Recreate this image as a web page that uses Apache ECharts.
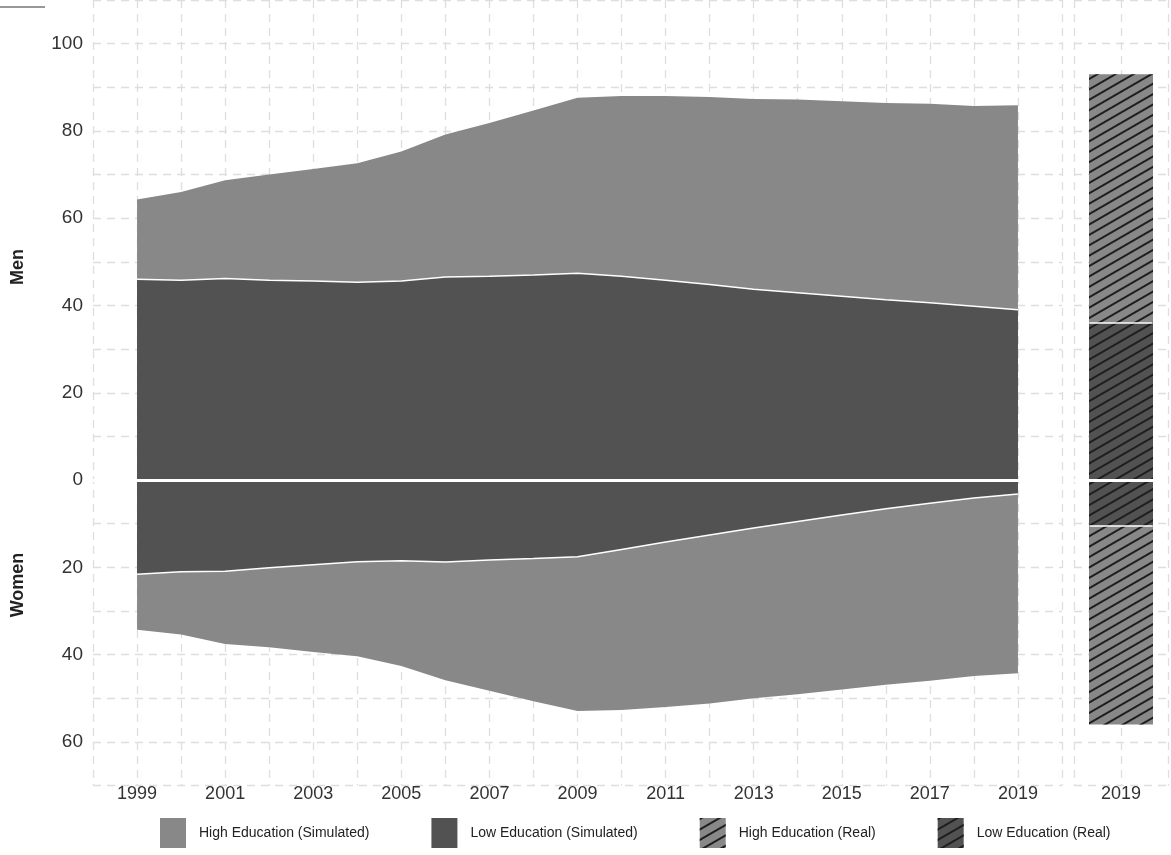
<!DOCTYPE html>
<html><head><meta charset="utf-8">
<script src="https://cdn.jsdelivr.net/npm/echarts@6/dist/echarts.min.js"></script>
<style>html,body{margin:0;padding:0;background:#fff}#c{width:1171px;height:855px}</style>
</head><body><div id="c"></div>
<script>
const years=[1999,2000,2001,2002,2003,2004,2005,2006,2007,2008,2009,2010,2011,2012,2013,2014,2015,2016,2017,2018,2019];
const menLow=[46,45.8,46.2,45.8,45.6,45.3,45.6,46.5,46.7,47,47.4,46.7,45.8,44.8,43.7,42.9,42.1,41.3,40.6,39.8,39];
const menTotal=[64.3,66,68.7,70,71.3,72.6,75.3,79.2,81.8,84.7,87.6,88,88,87.8,87.3,87.2,86.8,86.4,86.2,85.7,85.9];
const womenLow=[21.6,21,20.9,20.1,19.4,18.7,18.5,18.8,18.3,18,17.6,15.9,14.2,12.6,11,9.5,8,6.6,5.3,4.1,3.2];
const womenTotal=[34.3,35.4,37.6,38.3,39.4,40.4,42.6,45.9,48.3,50.7,52.9,52.7,52,51.2,50,49.1,48,46.9,46,44.9,44.3];
const realMenLow=36, realMenTotal=93, realWomenLow=10.5, realWomenTotal=56;
const LIGHT='#888888', DARK='#525252';
const pair=(a,s)=>years.map((y,i)=>[y,s*a[i]]);
const decal={symbol:'rect',dashArrayX:[1,0],dashArrayY:[1.6,7],rotation:-Math.PI/6,color:'#1e1e1e',symbolSize:1};
const gl={show:true,lineStyle:{color:'#dedede',type:[8,6],width:1.3}};
const yCommon={type:'value',min:-70,max:110,interval:10,axisLine:{show:false},axisTick:{show:false},splitLine:gl};
const bar=(name,v,color)=>({name,type:'bar',xAxisIndex:1,yAxisIndex:1,barWidth:64,barGap:'-100%',data:[[1,v]],
  itemStyle:{color,decal:decal}});
const seg=v=>[{coord:[0.326,v]},{coord:[1.674,v]}];
const chart=echarts.init(document.getElementById('c'));
chart.setOption({
 animation:false,
 grid:[{left:93,width:969,top:-2,height:787.5},{left:1074,width:95,top:-2,height:787.5}],
 xAxis:[
  {type:'value',gridIndex:0,min:1998,max:2020,interval:1,axisLine:{show:false},axisTick:{show:false},splitLine:gl,
   axisLabel:{margin:0,fontSize:18,color:'#333',fontFamily:'Liberation Sans',formatter:v=>(v%2===1&&v>1998&&v<2020)?String(v):''}},
  {type:'value',gridIndex:1,min:0,max:2,interval:1,axisLine:{show:false},axisTick:{show:false},splitLine:gl,
   axisLabel:{margin:0,fontSize:18,color:'#333',fontFamily:'Liberation Sans',formatter:v=>v===1?'2019':''}}
 ],
 yAxis:[
  Object.assign({gridIndex:0,axisLabel:{fontSize:19,color:'#333',fontFamily:'Liberation Sans',margin:10,formatter:v=>(v%20===0&&v>=-60&&v<=100)?String(Math.abs(v)):''}},yCommon),
  Object.assign({gridIndex:1,axisLabel:{show:false}},yCommon)
 ],
 legend:{bottom:2,left:155,itemWidth:26,itemHeight:30,itemGap:62,icon:'rect',
  textStyle:{fontSize:14,color:'#222',fontFamily:'Liberation Sans',padding:[4,0,0,8]},
  data:['High Education (Simulated)','Low Education (Simulated)','High Education (Real)','Low Education (Real)']},
 series:[
  {name:'High Education (Simulated)',type:'line',data:pair(menTotal,1),symbol:'none',lineStyle:{width:0},areaStyle:{color:LIGHT,opacity:1},itemStyle:{color:LIGHT}},
  {name:'High Education (Simulated)',type:'line',data:pair(womenTotal,-1),symbol:'none',lineStyle:{width:0},areaStyle:{color:LIGHT,opacity:1},itemStyle:{color:LIGHT}},
  {name:'Low Education (Simulated)',type:'line',data:pair(menLow,1),symbol:'none',lineStyle:{width:1.5,color:'#fff'},areaStyle:{color:DARK,opacity:1},itemStyle:{color:DARK}},
  {name:'Low Education (Simulated)',type:'line',data:pair(womenLow,-1),symbol:'none',lineStyle:{width:1.5,color:'#fff'},areaStyle:{color:DARK,opacity:1},itemStyle:{color:DARK},
   markLine:{silent:true,symbol:'none',label:{show:false},lineStyle:{color:'#fff',width:3,type:'solid'},data:[{yAxis:0}]}},
  bar('High Education (Real)',realMenTotal,LIGHT),
  bar('High Education (Real)',-realWomenTotal,LIGHT),
  bar('Low Education (Real)',realMenLow,DARK),
  Object.assign(bar('Low Education (Real)',-realWomenLow,DARK),
   {markLine:{silent:true,symbol:'none',label:{show:false},lineStyle:{color:'#fff',width:1.5,type:'solid'},
     data:[seg(realMenLow),seg(-realWomenLow),Object.assign(seg(0),{})]}}),
  {type:'line',xAxisIndex:1,yAxisIndex:1,data:[],markLine:{silent:true,symbol:'none',label:{show:false},lineStyle:{color:'#fff',width:3,type:'solid'},data:[{yAxis:0}]}}
 ],
 graphic:[
  {type:'text',rotation:Math.PI/2,x:18,y:267,style:{text:'Men',font:'bold 18px Liberation Sans',fill:'#222',align:'center',verticalAlign:'middle'}},
  {type:'text',rotation:Math.PI/2,x:18,y:585,style:{text:'Women',font:'bold 18px Liberation Sans',fill:'#222',align:'center',verticalAlign:'middle'}},
  {type:'line',shape:{x1:0,y1:7,x2:45,y2:7},style:{stroke:'#333',lineWidth:1}}
 ]
});
</script></body></html>
